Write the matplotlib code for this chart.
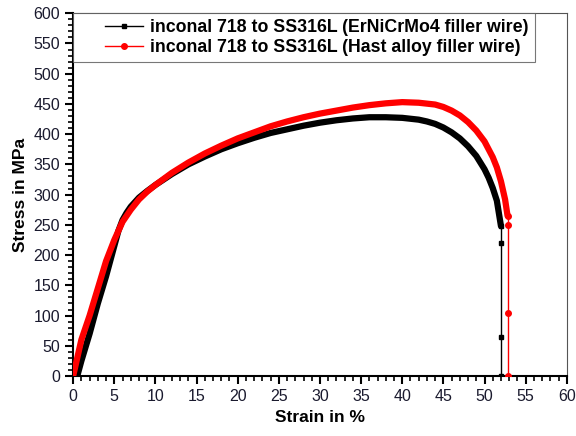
import matplotlib
matplotlib.use("Agg")
import matplotlib.pyplot as plt
from matplotlib.lines import Line2D
from matplotlib.legend_handler import HandlerLine2D
from matplotlib.ticker import MultipleLocator

plt.rcParams['font.family'] = ['Liberation Sans', 'DejaVu Sans']

# Series 1: ErNiCrMo4 filler wire (black)
strain_1 = [0.5, 1.0, 2.0, 3.0, 4.0, 5.0, 5.5, 6.0, 6.5, 7.0, 8.0, 9.0, 10.0, 12.0, 14.0,
            16.0, 18.0, 20.0, 22.0, 24.0, 26.0, 28.0, 30.0, 32.0, 34.0, 36.0, 38.0, 40.0,
            42.0, 43.0, 44.0, 45.0, 46.0, 47.0, 48.0, 49.0, 50.0, 50.5, 51.0, 51.5, 52.0]
stress_1 = [0, 25, 70, 120, 165, 215, 240, 258, 270, 280, 295, 306, 316, 334, 350,
            363, 375, 385, 394, 402, 408, 414, 419, 423, 426, 428, 428, 427,
            424, 421, 417, 411, 403, 393, 380, 364, 342, 328, 311, 290, 248]
frac_strain_1 = [52.0, 52.0, 52.0, 52.0]
frac_stress_1 = [248, 220, 65, 0]

# Series 2: Hast alloy filler wire (red)
strain_2 = [0.0, 0.5, 1.0, 2.0, 3.0, 4.0, 5.0, 5.5, 6.0, 6.5, 7.0, 8.0, 9.0, 10.0, 12.0, 14.0,
            16.0, 18.0, 20.0, 22.0, 24.0, 26.0, 28.0, 30.0, 32.0, 34.0, 36.0, 38.0, 40.0,
            42.0, 44.0, 45.0, 46.0, 47.0, 48.0, 49.0, 50.0, 51.0, 51.5, 52.0, 52.5, 52.8]
stress_2 = [0, 30, 60, 100, 145, 190, 225, 240, 255, 265, 275, 292, 305, 316, 336, 353,
            368, 381, 393, 403, 413, 421, 428, 434, 439, 444, 448, 451, 453,
            452, 449, 445, 439, 431, 420, 406, 388, 362, 345, 322, 292, 265]
frac_strain_2 = [52.8, 52.8, 52.8, 52.8]
frac_stress_2 = [265, 250, 105, 0]

labels = ["inconal 718 to SS316L (ErNiCrMo4 filler wire)",
          "inconal 718 to SS316L (Hast alloy filler wire)"]
colors = ["black", "red"]


class ShiftedHandler(HandlerLine2D):
    def create_artists(self, legend, orig_handle, xdescent, ydescent, width, height,
                       fontsize, trans):
        shift = width * 0.40
        return super().create_artists(legend, orig_handle, xdescent - shift, ydescent,
                                      width - shift, height, fontsize, trans)


fig = plt.figure(figsize=(5.76, 4.36), dpi=100)
ax = fig.add_axes([0.127, 0.1376, 0.857, 0.832])

ax.plot(strain_1, stress_1, color=colors[0], lw=4.5, solid_capstyle='round', zorder=3)
ax.plot(frac_strain_1, frac_stress_1, color=colors[0], lw=1, marker='s', ms=3.5, zorder=3)
ax.plot(strain_2, stress_2, color=colors[1], lw=4.5, solid_capstyle='round', zorder=4)
ax.plot(frac_strain_2, frac_stress_2, color=colors[1], lw=1, marker='o', ms=4, zorder=4)

ax.set_xlim(0, 60)
ax.set_ylim(0, 600)
ax.xaxis.set_major_locator(MultipleLocator(5))
ax.xaxis.set_minor_locator(MultipleLocator(1))
ax.yaxis.set_major_locator(MultipleLocator(50))
ax.yaxis.set_minor_locator(MultipleLocator(10))
ax.tick_params(which='major', direction='out', length=6, width=1.5, labelsize=11.5,
               labelcolor='#1a1a2e', top=False, right=False)
ax.tick_params(which='minor', direction='out', length=3.5, width=1.2, top=False, right=False)
ax.spines['left'].set_linewidth(1.5)
ax.spines['bottom'].set_linewidth(1.5)
ax.spines['top'].set_linewidth(0.8)
ax.spines['right'].set_linewidth(0.8)
ax.spines['top'].set_color('#555555')
ax.spines['right'].set_color('#555555')

ax.set_xlabel("Strain in %", fontsize=12.5, fontweight='bold', labelpad=4)
ax.set_ylabel("Stress in MPa", fontsize=12.5, fontweight='bold', labelpad=4)

handles = [Line2D([], [], color=colors[0], lw=1, marker='s', ms=3.5),
           Line2D([], [], color=colors[1], lw=1, marker='o', ms=4)]
leg = ax.legend(handles, labels, loc='upper left', borderaxespad=0, frameon=True,
                fancybox=False, edgecolor='#555555', handlelength=3.6,
                prop={'weight': 'bold', 'size': 12.8}, borderpad=0.34, labelspacing=0.16,
                handletextpad=0.4,
                handler_map={Line2D: ShiftedHandler()})
leg.get_frame().set_linewidth(0.8)

fig.savefig("out.png", dpi=100)
